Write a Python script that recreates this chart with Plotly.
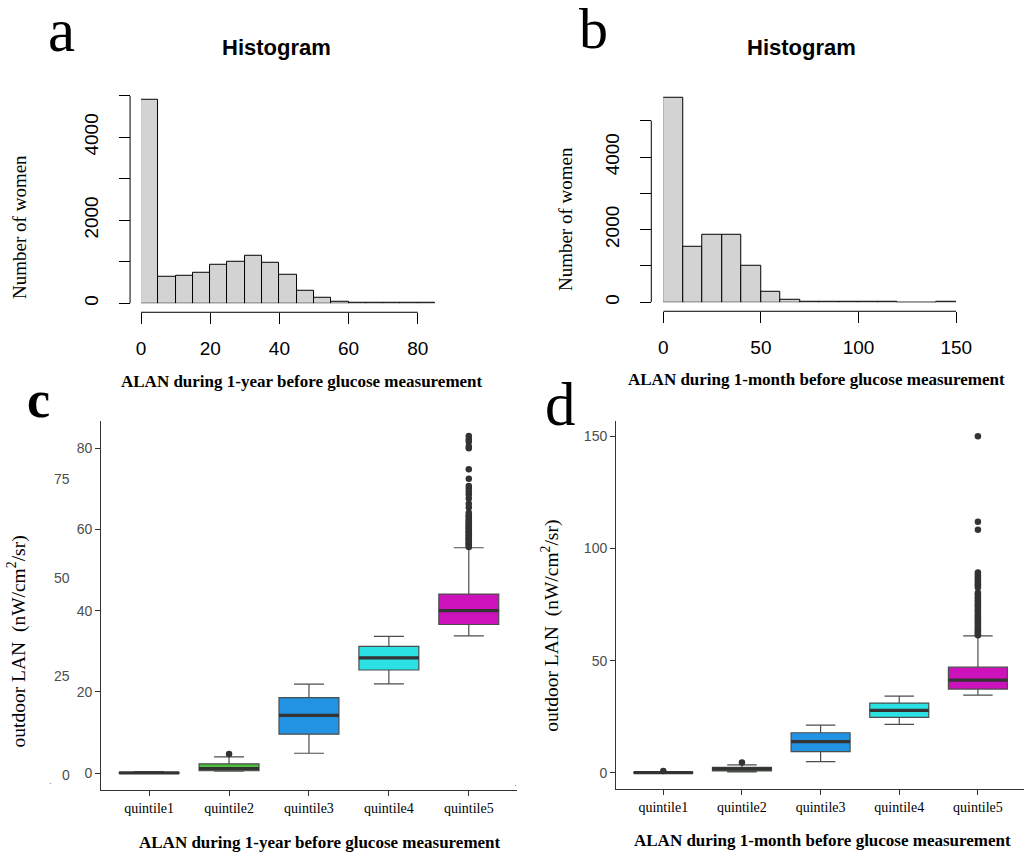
import plotly.graph_objects as go

W, H = 1025, 856

# ---------------- data ----------------
# panel a: histogram of 1-year ALAN (bin width 5)
a_bin_left = [0, 5, 10, 15, 20, 25, 30, 35, 40, 45, 50, 55, 60, 65, 70, 75, 80]
a_counts = [4900, 640, 665, 735, 918, 990, 1142, 975, 688, 312, 136, 48, 18, 4, 2, 1, 1]
a_bin_width = 5
a_xticks = [0, 20, 40, 60, 80]
a_yticks = [0, 1000, 2000, 3000, 4000, 5000]
a_yticklabels = ["0", "", "2000", "", "4000", ""]

# panel b: histogram of 1-month ALAN (bin width 10)
b_bin_left = [0, 10, 20, 30, 40, 50, 60, 70, 80, 90, 100, 110, 120, 130, 140]
b_counts = [5620, 1520, 1868, 1868, 1016, 302, 82, 27, 6, 2, 1, 1, 0, 0, 1]
b_bin_width = 10
b_xticks = [0, 50, 100, 150]
b_yticks = [0, 1000, 2000, 3000, 4000, 5000]
b_yticklabels = ["0", "", "2000", "", "4000", ""]

# panel c / d: box plots by quintile
quintiles = ["quintile1", "quintile2", "quintile3", "quintile4", "quintile5"]
box_colors = ["#4d4d4d", "#4cbf3c", "#2292e2", "#2ce1e3", "#cc12bb"]

c_lower = [0.0, 0.5, 4.9, 22.0, 33.8]
c_q1 = [0.0, 0.6, 9.6, 25.4, 36.6]
c_median = [0.05, 1.1, 14.25, 28.4, 40.0]
c_q3 = [0.15, 2.3, 18.6, 31.2, 44.1]
c_upper = [0.4, 4.0, 21.9, 33.7, 55.5]
c_out_q2 = [4.7]
c_out_q5 = [55.7, 55.9, 56.3, 56.6, 56.8, 57.2, 57.5, 57.7, 58.1, 58.4, 58.6, 59.0,
            59.3, 59.5, 59.9, 60.2, 60.5, 60.8, 61.0, 61.4, 61.7, 62.1, 62.3, 62.8,
            63.2, 63.5, 64.1, 65.4, 66.3, 67.6, 68.6, 69.3, 70.0, 70.7, 72.5, 74.8,
            80.0, 80.4, 81.6, 82.2, 83.0]
c_yticks = [0, 20, 40, 60, 80]
c_extra_labels = ["75", "50", "25", "0"]

d_lower = [0.0, 0.4, 5.0, 21.6, 34.7]
d_q1 = [0.0, 0.9, 9.5, 24.75, 37.35]
d_median = [0.1, 1.8, 13.9, 27.9, 41.35]
d_q3 = [0.3, 2.5, 17.9, 31.1, 47.1]
d_upper = [0.6, 3.6, 21.3, 34.2, 61.1]
d_out_q1 = [0.9]
d_out_q2 = [4.6]
d_out_q5 = [61.3, 61.8, 62.4, 62.9, 63.6, 64.2, 64.9, 65.5, 66.3, 66.8, 67.6, 68.2,
            68.9, 69.7, 70.3, 71.0, 71.8, 72.4, 73.1, 73.9, 74.6, 75.2, 76.0, 76.7,
            77.5, 78.1, 78.8, 79.6, 80.3, 82.6, 83.4, 84.1, 84.9, 85.6, 86.4, 87.1,
            87.9, 88.6, 89.3, 108.3, 111.9, 150.0]
d_yticks = [0, 50, 100, 150]

# ---------------- helpers ----------------
def fx(px):
    # small left-side correction observed in the rendered page
    return (px - 2.5 + 2.5 * px / W) / W

def fy(py):
    return 1 - py / H

SERIF = "Liberation Serif, Times New Roman, serif"
SANS = "Liberation Sans, Arial, sans-serif"

fig = go.Figure()

# histograms
fig.add_trace(go.Bar(
    x=[l + a_bin_width / 2 for l in a_bin_left], y=a_counts, width=a_bin_width,
    marker=dict(color="#d3d3d3", line=dict(color="black", width=1)),
    xaxis="x", yaxis="y", showlegend=False, hoverinfo="skip"))
fig.add_trace(go.Bar(
    x=[l + b_bin_width / 2 for l in b_bin_left], y=b_counts, width=b_bin_width,
    marker=dict(color="#d3d3d3", line=dict(color="black", width=1)),
    xaxis="x2", yaxis="y2", showlegend=False, hoverinfo="skip"))

BOX_W = 0.75

def add_boxes(xa, ya, lower, q1, med, q3, upper):
    for i in range(5):
        fig.add_trace(go.Box(
            x=[i], q1=[q1[i]], median=[med[i]], q3=[q3[i]],
            lowerfence=[lower[i]], upperfence=[upper[i]],
            width=BOX_W, fillcolor=box_colors[i],
            line=dict(color="#4d4d4d", width=1.2), boxpoints=False,
            xaxis=xa, yaxis=ya, showlegend=False, hoverinfo="skip"))
        fig.add_trace(go.Scatter(
            x=[i - BOX_W / 2, i + BOX_W / 2], y=[med[i], med[i]], mode="lines",
            line=dict(color="#333333", width=3.2),
            xaxis=xa, yaxis=ya, showlegend=False, hoverinfo="skip"))

def add_outliers(xa, ya, idx, vals):
    fig.add_trace(go.Scatter(
        x=[idx] * len(vals), y=vals, mode="markers",
        marker=dict(color="#333333", size=6.5),
        xaxis=xa, yaxis=ya, showlegend=False, hoverinfo="skip"))

add_boxes("x3", "y3", c_lower, c_q1, c_median, c_q3, c_upper)
add_outliers("x3", "y3", 1, c_out_q2)
add_outliers("x3", "y3", 4, c_out_q5)

add_boxes("x4", "y4", d_lower, d_q1, d_median, d_q3, d_upper)
add_outliers("x4", "y4", 0, d_out_q1)
add_outliers("x4", "y4", 1, d_out_q2)
add_outliers("x4", "y4", 4, d_out_q5)

# ---------------- axes ----------------
hist_tick = dict(ticks="outside", ticklen=11, tickwidth=1, tickcolor="black",
                 showgrid=False, zeroline=False, showline=False,
                 tickfont=dict(family=SANS, size=19, color="black"))

fig.update_layout(
    xaxis=dict(domain=[fx(139), fx(434)], range=[0, 85], anchor="free",
               position=fy(313), tickvals=a_xticks, ticklabelstandoff=8, **hist_tick),
    yaxis=dict(domain=[fy(304), fy(96)], range=[0, 5000], anchor="free",
               position=fx(128), tickvals=a_yticks, ticktext=a_yticklabels,
               tickangle=-90, ticklabelstandoff=13, **hist_tick),
    xaxis2=dict(domain=[fx(663), fx(957)], range=[0, 150], anchor="free",
                position=fy(312), tickvals=b_xticks, ticklabelstandoff=8, **hist_tick),
    yaxis2=dict(domain=[fy(303), fy(96)], range=[0, 5687], anchor="free",
                position=fx(651), tickvals=b_yticks, ticktext=b_yticklabels,
                tickangle=-90, ticklabelstandoff=14, **hist_tick),
)

box_x = dict(ticks="outside", ticklen=5, tickwidth=1, tickcolor="#333333",
             showline=True, linecolor="#333333", linewidth=1.2,
             showgrid=False, zeroline=False,
             tickvals=[0, 1, 2, 3, 4], ticktext=quintiles,
             tickfont=dict(family=SERIF, size=14, color="black"))
box_y = dict(ticks="outside", ticklen=5, tickwidth=1, tickcolor="#333333",
             showline=True, linecolor="#333333", linewidth=1.2,
             showgrid=False, zeroline=False,
             tickfont=dict(family=SANS, size=14, color="#4d4d4d"))

fig.update_layout(
    xaxis3=dict(domain=[fx(99), fx(516)], range=[-0.6, 4.6], anchor="y3", **box_x),
    yaxis3=dict(domain=[fy(792), fy(422)], range=[-4.18, 86.7], anchor="x3",
                tickvals=c_yticks, **box_y),
    xaxis4=dict(domain=[fx(615.7), 1.0], range=[-0.6, 4.586], anchor="y4", **box_x),
    yaxis4=dict(domain=[fy(790.7), fy(422)], range=[-7.1, 156.8], anchor="x4",
                tickvals=d_yticks, **box_y),
)

# axis lines for the base-R style histograms (detached axes)
shapes = [
    dict(type="line", xref="paper", yref="y", x0=fx(128), x1=fx(128), y0=0, y1=5000,
         line=dict(color="black", width=1)),
    dict(type="line", xref="x", yref="paper", x0=0, x1=80, y0=fy(313), y1=fy(313),
         line=dict(color="black", width=1)),
    dict(type="line", xref="paper", yref="y2", x0=fx(651), x1=fx(651), y0=0, y1=5000,
         line=dict(color="black", width=1)),
    dict(type="line", xref="x2", yref="paper", x0=0, x1=150, y0=fy(312), y1=fy(312),
         line=dict(color="black", width=1)),
]
fig.update_layout(shapes=shapes)

# ---------------- text ----------------
ann = []

def text(x, y, s, size, family=SERIF, color="black", bold=False, angle=0,
         xanchor="center", yanchor="middle"):
    if bold:
        s = "<b>" + s + "</b>"
    ann.append(dict(x=fx(x), y=fy(y), xref="paper", yref="paper", text=s,
                    showarrow=False, textangle=angle, xanchor=xanchor, yanchor=yanchor,
                    font=dict(family=family, size=size, color=color)))

# panel letters
text(59.5, 31, "a", 61)
text(593, 29, "b", 58)
text(36.5, 400, "c", 52, bold=True)
text(560, 405, "d", 61)

# histogram titles
text(275, 48, "Histogram", 22, family=SANS, bold=True)
text(802, 48, "Histogram", 22, family=SANS, bold=True)

# histogram axis titles
text(300.5, 382, "ALAN during 1-year before glucose measurement", 17, bold=True)
text(817, 380, "ALAN during 1-month before glucose measurement", 17, bold=True)
text(17, 227, "Number of women", 19, angle=-90)
text(565, 220, "Number of women", 19, angle=-90)

# boxplot axis titles
ylab = "outdoor LAN\u00a0 (nW/cm<sup>2</sup>/sr)"
text(318.7, 844, "ALAN during 1-year before glucose measurement", 17, bold=True)
text(823, 842.7, "ALAN during 1-month before glucose measurement", 17, bold=True)
text(15, 642.5, ylab, 19.5, angle=-90)
text(549, 627.5, ylab, 19.5, angle=-90)

# stray tick labels present in panel c
for lab, yy in zip(c_extra_labels, [480, 579, 678, 777]):
    text(70, yy, lab, 14, family=SANS, color="#4d4d4d", xanchor="right")
text(48, 782, ".", 10, family=SANS, color="#888888")
text(515, 784, ".", 10, family=SANS, color="#888888")

fig.update_layout(
    annotations=ann,
    width=1040, height=H, autosize=False,
    margin=dict(l=0, r=0, t=0, b=0),
    paper_bgcolor="white", plot_bgcolor="white",
    bargap=0, showlegend=False,
)

fig.write_html("out.html",
               config={"responsive": False, "displayModeBar": False},
               post_script=("document.documentElement.style.overflow='hidden';"
                            "document.body.style.margin='0';"
                            "document.body.style.overflow='hidden';"))
